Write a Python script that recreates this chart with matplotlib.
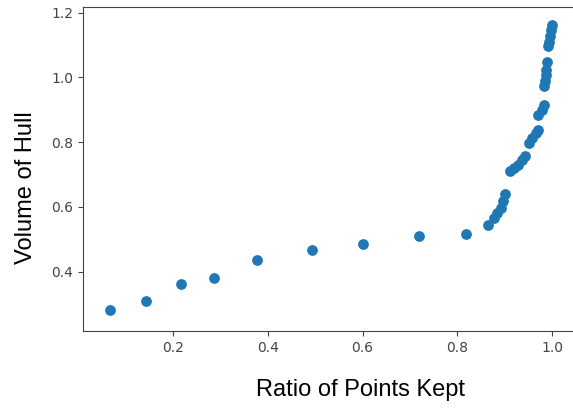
import matplotlib
matplotlib.use("Agg")
import matplotlib.pyplot as plt

# ratio of points kept vs. resulting hull volume
ratio_kept = [0.068, 0.144, 0.218, 0.286, 0.377, 0.493, 0.600, 0.718, 0.818,
              0.865, 0.877, 0.884, 0.891, 0.897, 0.900, 0.911, 0.919, 0.927,
              0.937, 0.942, 0.951, 0.958, 0.965, 0.969, 0.970, 0.978, 0.982,
              0.982, 0.984, 0.986, 0.987, 0.989, 0.992, 0.993, 0.995, 0.997,
              0.999]
hull_volume = [0.281, 0.309, 0.362, 0.380, 0.436, 0.467, 0.486, 0.510, 0.518,
               0.545, 0.566, 0.580, 0.596, 0.617, 0.640, 0.710, 0.720, 0.730,
               0.746, 0.758, 0.797, 0.813, 0.828, 0.838, 0.885, 0.901, 0.916,
               0.973, 0.988, 1.008, 1.023, 1.049, 1.096, 1.111, 1.129, 1.148,
               1.161]
x_ticks = [0.2, 0.4, 0.6, 0.8, 1.0]
y_ticks = [0.4, 0.6, 0.8, 1.0, 1.2]

fig = plt.figure(figsize=(5.73, 4.09), dpi=100)
ax = fig.add_axes([0.1449, 0.1907, 0.8661, 0.7922])

ax.scatter(ratio_kept, hull_volume, s=45, color="#1f77b4")

ax.set_xlim(0.0107, 1.057)
ax.set_ylim(0.217, 1.2176)
ax.set_xticks(x_ticks)
ax.set_yticks(y_ticks)
ax.tick_params(labelsize=10, labelcolor="#444444", color="#444444")
for sp in ax.spines.values():
    sp.set_color("#444444")

ax.set_xlabel("Ratio of Points Kept", fontsize=17, family="Liberation Sans")
ax.set_ylabel("Volume of Hull", fontsize=17, family="Liberation Sans")
ax.xaxis.set_label_coords(0.560, -0.148)
ax.yaxis.set_label_coords(-0.093, 0.443)

fig.savefig("out.png", dpi=100)
